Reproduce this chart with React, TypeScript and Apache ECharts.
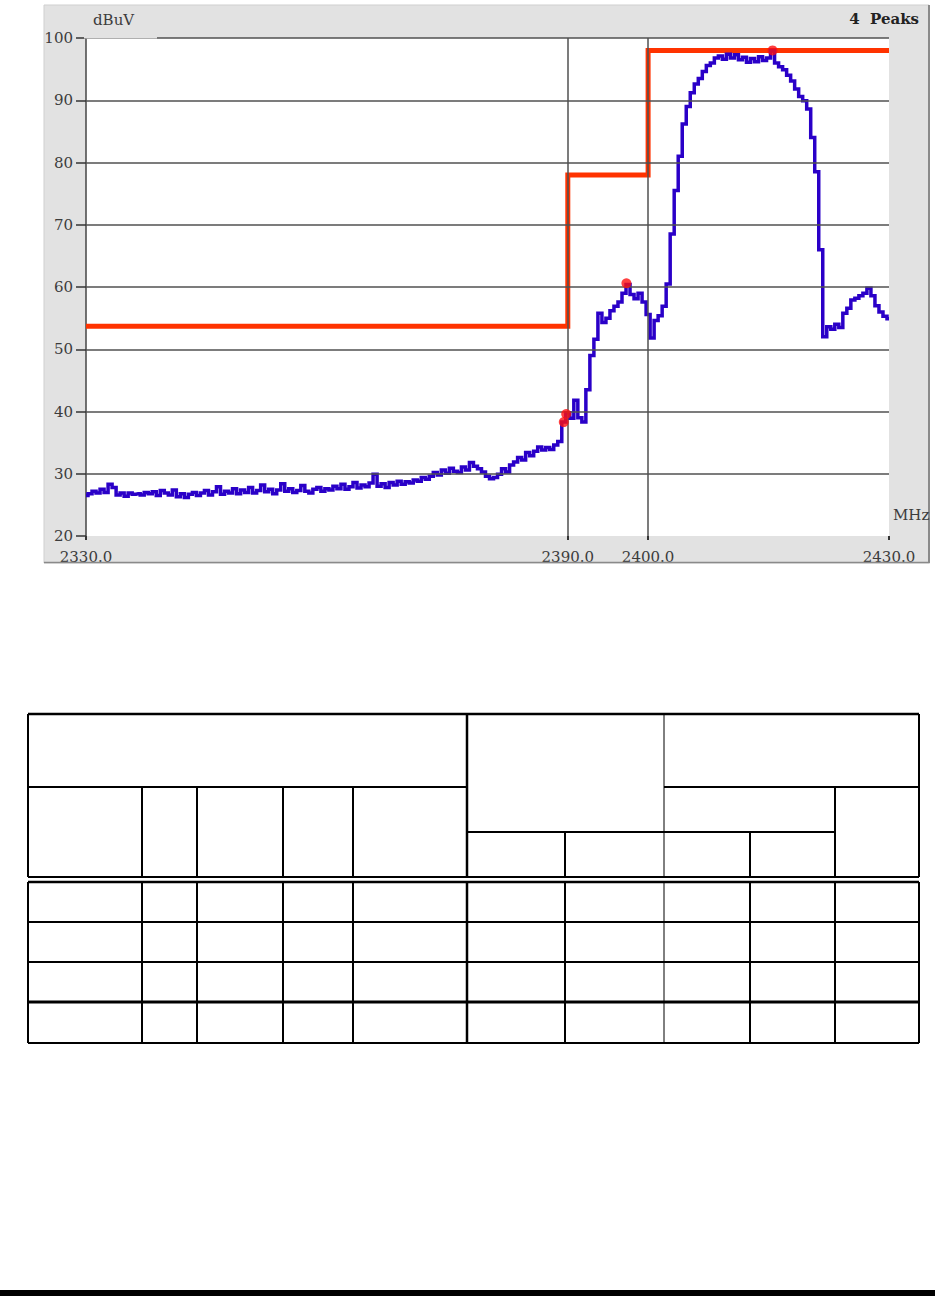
import React, { useEffect, useRef } from "react";
import * as echarts from "echarts";

// ---- data ----
const traceStartMHz = 2330;
const traceStepMHz = 0.5;
const traceLevels = [
  26.5, 26.8, 27.2, 26.9, 27.5, 27.0, 28.3, 27.8, 26.6, 26.9, 26.4, 26.9, 26.7, 26.8, 26.6, 27.0, 26.8, 27.1, 26.5, 27.3, 26.9,
  26.6, 27.4, 26.3, 26.8, 26.2, 26.7, 27.0, 26.5, 26.9, 27.3, 26.6, 27.1, 27.9, 26.7, 27.2, 26.9, 27.6, 26.8, 27.4, 27.0,
  27.8, 26.9, 27.3, 28.2, 27.1, 27.5, 26.8, 27.4, 28.4, 27.2, 27.6, 27.0, 27.3, 28.1, 27.2, 26.9, 27.5, 27.8, 27.2, 27.6,
  27.4, 28.0, 27.6, 28.3, 27.5, 27.9, 28.6, 27.7, 28.2, 27.9, 28.5, 29.9, 28.0, 28.4, 27.8, 28.6, 28.2, 28.8, 28.3, 28.7,
  28.5, 29.0, 28.8, 29.4, 29.1, 29.6, 30.2, 29.8, 30.6, 30.1, 30.9, 30.4, 30.2, 31.1, 30.6, 31.8, 31.2, 30.8, 30.3, 29.6,
  29.2, 29.4, 29.9, 30.8, 30.3, 31.4, 31.9, 32.6, 32.2, 33.4, 32.9, 33.6, 34.3, 33.8, 34.2, 33.9, 34.6, 35.2, 38.3, 39.8,
  38.9, 41.8, 39.0, 38.3, 43.5, 49.0, 51.6, 55.8, 54.3, 55.0, 56.2, 56.9, 57.6, 59.0, 60.4, 58.8, 58.1, 59.0, 57.6, 55.6,
  51.8, 54.6, 55.4, 56.9, 60.5, 68.5, 75.5, 81.0, 86.2, 89.0, 91.2, 92.6, 93.5, 94.6, 95.6, 96.0, 96.8, 97.1, 96.6, 97.4,
  96.8, 97.3, 96.5, 96.9, 96.1, 96.7, 96.2, 97.0, 96.4, 96.8, 98.0, 96.0, 95.4, 94.9, 94.0, 93.1, 91.8, 90.6, 89.9, 88.6,
  84.0, 78.5, 66.0, 52.0, 53.6, 53.2, 54.0, 53.5, 55.8, 56.6, 57.9, 58.2, 58.6, 59.0, 59.8, 58.6, 57.0, 56.0, 55.3, 54.9,
];
const limitMHz = [2330, 2390, 2390, 2400, 2400, 2430];
const limitLevels = [53.7, 53.7, 78, 78, 98, 98];
const peakMHz = [2389.5, 2389.8, 2397.3, 2415.5];
const peakLevels = [38.3, 39.6, 60.6, 98.0];
const xTickValues = [2330, 2390, 2400, 2430];
const gridLevels = [30, 40, 50, 60, 70, 80, 90, 100];
const gridFreqs = [2390, 2400];
const yUnit = "dBuV";
const xUnit = "MHz";
const peaksLabel = "4  Peaks";

// table layout (empty form)
const colX = [28, 142, 197, 283, 353, 467, 565, 664, 750, 835, 919];
const rowY = [714, 787, 832, 877, 882, 922, 962, 1002, 1043];

const SERIF = "'DejaVu Serif', 'Liberation Serif', serif";

function tableLines() {
  const L: any[] = [];
  const h = (y: number, x1: number, x2: number, w = 2) =>
    L.push({ type: "line", z: 50, shape: { x1, y1: y, x2, y2: y }, style: { stroke: "#000", lineWidth: w } });
  const v = (x: number, y1: number, y2: number, w = 2) =>
    L.push({ type: "line", z: 50, shape: { x1: x, y1, x2: x, y2 }, style: { stroke: "#000", lineWidth: w } });
  const [c0, c1, c2, c3, c4, c5, c6, c7, c8, c9, c10] = colX;
  const [r0, r1, r2, r3, r4, r5, r6, r7, r8] = rowY;
  h(r0, c0, c10, 2.5);
  h(r1, c0, c5);
  h(r1, c7, c10);
  h(r2, c5, c9);
  h(r3, c0, c10);
  h(r4, c0, c10, 2.5);
  h(r5, c0, c10);
  h(r6, c0, c10);
  h(r7, c0, c10, 3);
  h(r8, c0, c10);
  // header verticals
  v(c0, r0, r3);
  for (const c of [c1, c2, c3, c4]) v(c, r1, r3);
  v(c5, r0, r3, 2.5);
  v(c6, r2, r3);
  v(c7, r0, r3, 1);
  v(c8, r2, r3);
  v(c9, r1, r3);
  v(c10, r0, r3);
  // body verticals
  colX.forEach((c, i) => v(c, r4, r8, i === 7 ? 1 : i === 5 ? 2.5 : 2));
  return L;
}

export default function App() {
  const ref = useRef<HTMLDivElement>(null);
  useEffect(() => {
    if (!ref.current) return;
    const chart = echarts.init(ref.current, null, { renderer: "svg" });
    const trace = traceLevels.map((v, i) => [traceStartMHz + i * traceStepMHz, v]);
    const limit = limitMHz.map((f, i) => [f, limitLevels[i]]);
    const peaks = peakMHz.map((f, i) => [f, peakLevels[i]]);
    const gridColor = "#505050";
    chart.setOption({
      animation: false,
      backgroundColor: "#ffffff",
      grid: {
        left: 86,
        top: 38,
        width: 803,
        height: 498,
        show: true,
        backgroundColor: "#ffffff",
        borderWidth: 0,
      },
      xAxis: {
        type: "value",
        min: 2330,
        max: 2430,
        axisLine: { show: false },
        splitLine: { show: false },
        axisTick: {
          show: true,
          customValues: xTickValues,
          length: 4,
          lineStyle: { color: "#333", width: 2 },
        },
        axisLabel: {
          customValues: xTickValues,
          formatter: (v: number) => v.toFixed(1),
          fontFamily: SERIF,
          fontSize: 15,
          color: "#3c3c3c",
          margin: 13,
        },
      },
      yAxis: {
        type: "value",
        min: 20,
        max: 100,
        interval: 10,
        axisLine: { show: true, lineStyle: { color: "#444", width: 1.5 } },
        axisTick: { show: true, length: 10, lineStyle: { color: "#333", width: 1.5 } },
        splitLine: { show: false },
        axisLabel: { fontFamily: SERIF, fontSize: 15, color: "#3c3c3c", margin: 13 },
      },
      series: [
        {
          name: "grid",
          type: "line",
          z: 1,
          data: limit,
          showSymbol: false,
          silent: true,
          lineStyle: { opacity: 0, width: 0 },
          markLine: {
            silent: true,
            symbol: ["none", "none"],
            label: { show: false },
            lineStyle: { color: gridColor, width: 1.5, type: "solid" },
            data: [
              ...gridLevels.map((y) => ({ yAxis: y })),
              ...gridFreqs.map((x) => ({ xAxis: x })),
            ],
          },
        },
        {
          name: "limit",
          type: "line",
          z: 3,
          data: limit,
          showSymbol: false,
          lineStyle: { color: "#ff3300", width: 5, join: "miter", cap: "butt" },
        },
        {
          name: "trace",
          type: "line",
          z: 4,
          step: "middle",
          data: trace,
          showSymbol: false,
          lineStyle: { color: "#2a00c8", width: 3.5, join: "miter" },
        },
        {
          name: "peaks",
          type: "scatter",
          z: 5,
          data: peaks,
          symbolSize: 10,
          itemStyle: { color: "#ff1010" },
        },
      ],
      graphic: [
        {
          type: "rect",
          z: -100,
          shape: { x: 44, y: 5, width: 885, height: 558 },
          style: { fill: "#e2e2e2", stroke: "#cfcfcf", lineWidth: 1 },
        },
        {
          type: "rect",
          z: 40,
          shape: { x: 84, y: 35.5, width: 73, height: 3 },
          style: { fill: "#e2e2e2" },
        },
        { type: "line", z: 40, shape: { x1: 929, y1: 5, x2: 929, y2: 563 }, style: { stroke: "#8a8a8a", lineWidth: 2 } },
        { type: "line", z: 40, shape: { x1: 44, y1: 562.5, x2: 930, y2: 562.5 }, style: { stroke: "#8a8a8a", lineWidth: 1.5 } },
        {
          type: "text",
          z: 41,
          x: 93,
          y: 12,
          style: { text: yUnit, fontFamily: SERIF, fontSize: 15, fill: "#3c3c3c" },
        },
        {
          type: "text",
          z: 41,
          x: 919,
          y: 11,
          style: { text: peaksLabel, fontFamily: SERIF, fontSize: 15, fontWeight: "bold", fill: "#222", align: "right" },
        },
        {
          type: "text",
          z: 41,
          x: 893,
          y: 507,
          style: { text: xUnit, fontFamily: SERIF, fontSize: 15, fill: "#3c3c3c" },
        },
        ...tableLines(),
        {
          type: "rect",
          z: 50,
          shape: { x: 0, y: 1290, width: 935, height: 6 },
          style: { fill: "#000" },
        },
      ],
    });
    return () => chart.dispose();
  }, []);
  return (
    <div
      ref={ref}
      style={{ position: "absolute", left: 0, top: 0, width: 935, height: 1296 }}
    />
  );
}
